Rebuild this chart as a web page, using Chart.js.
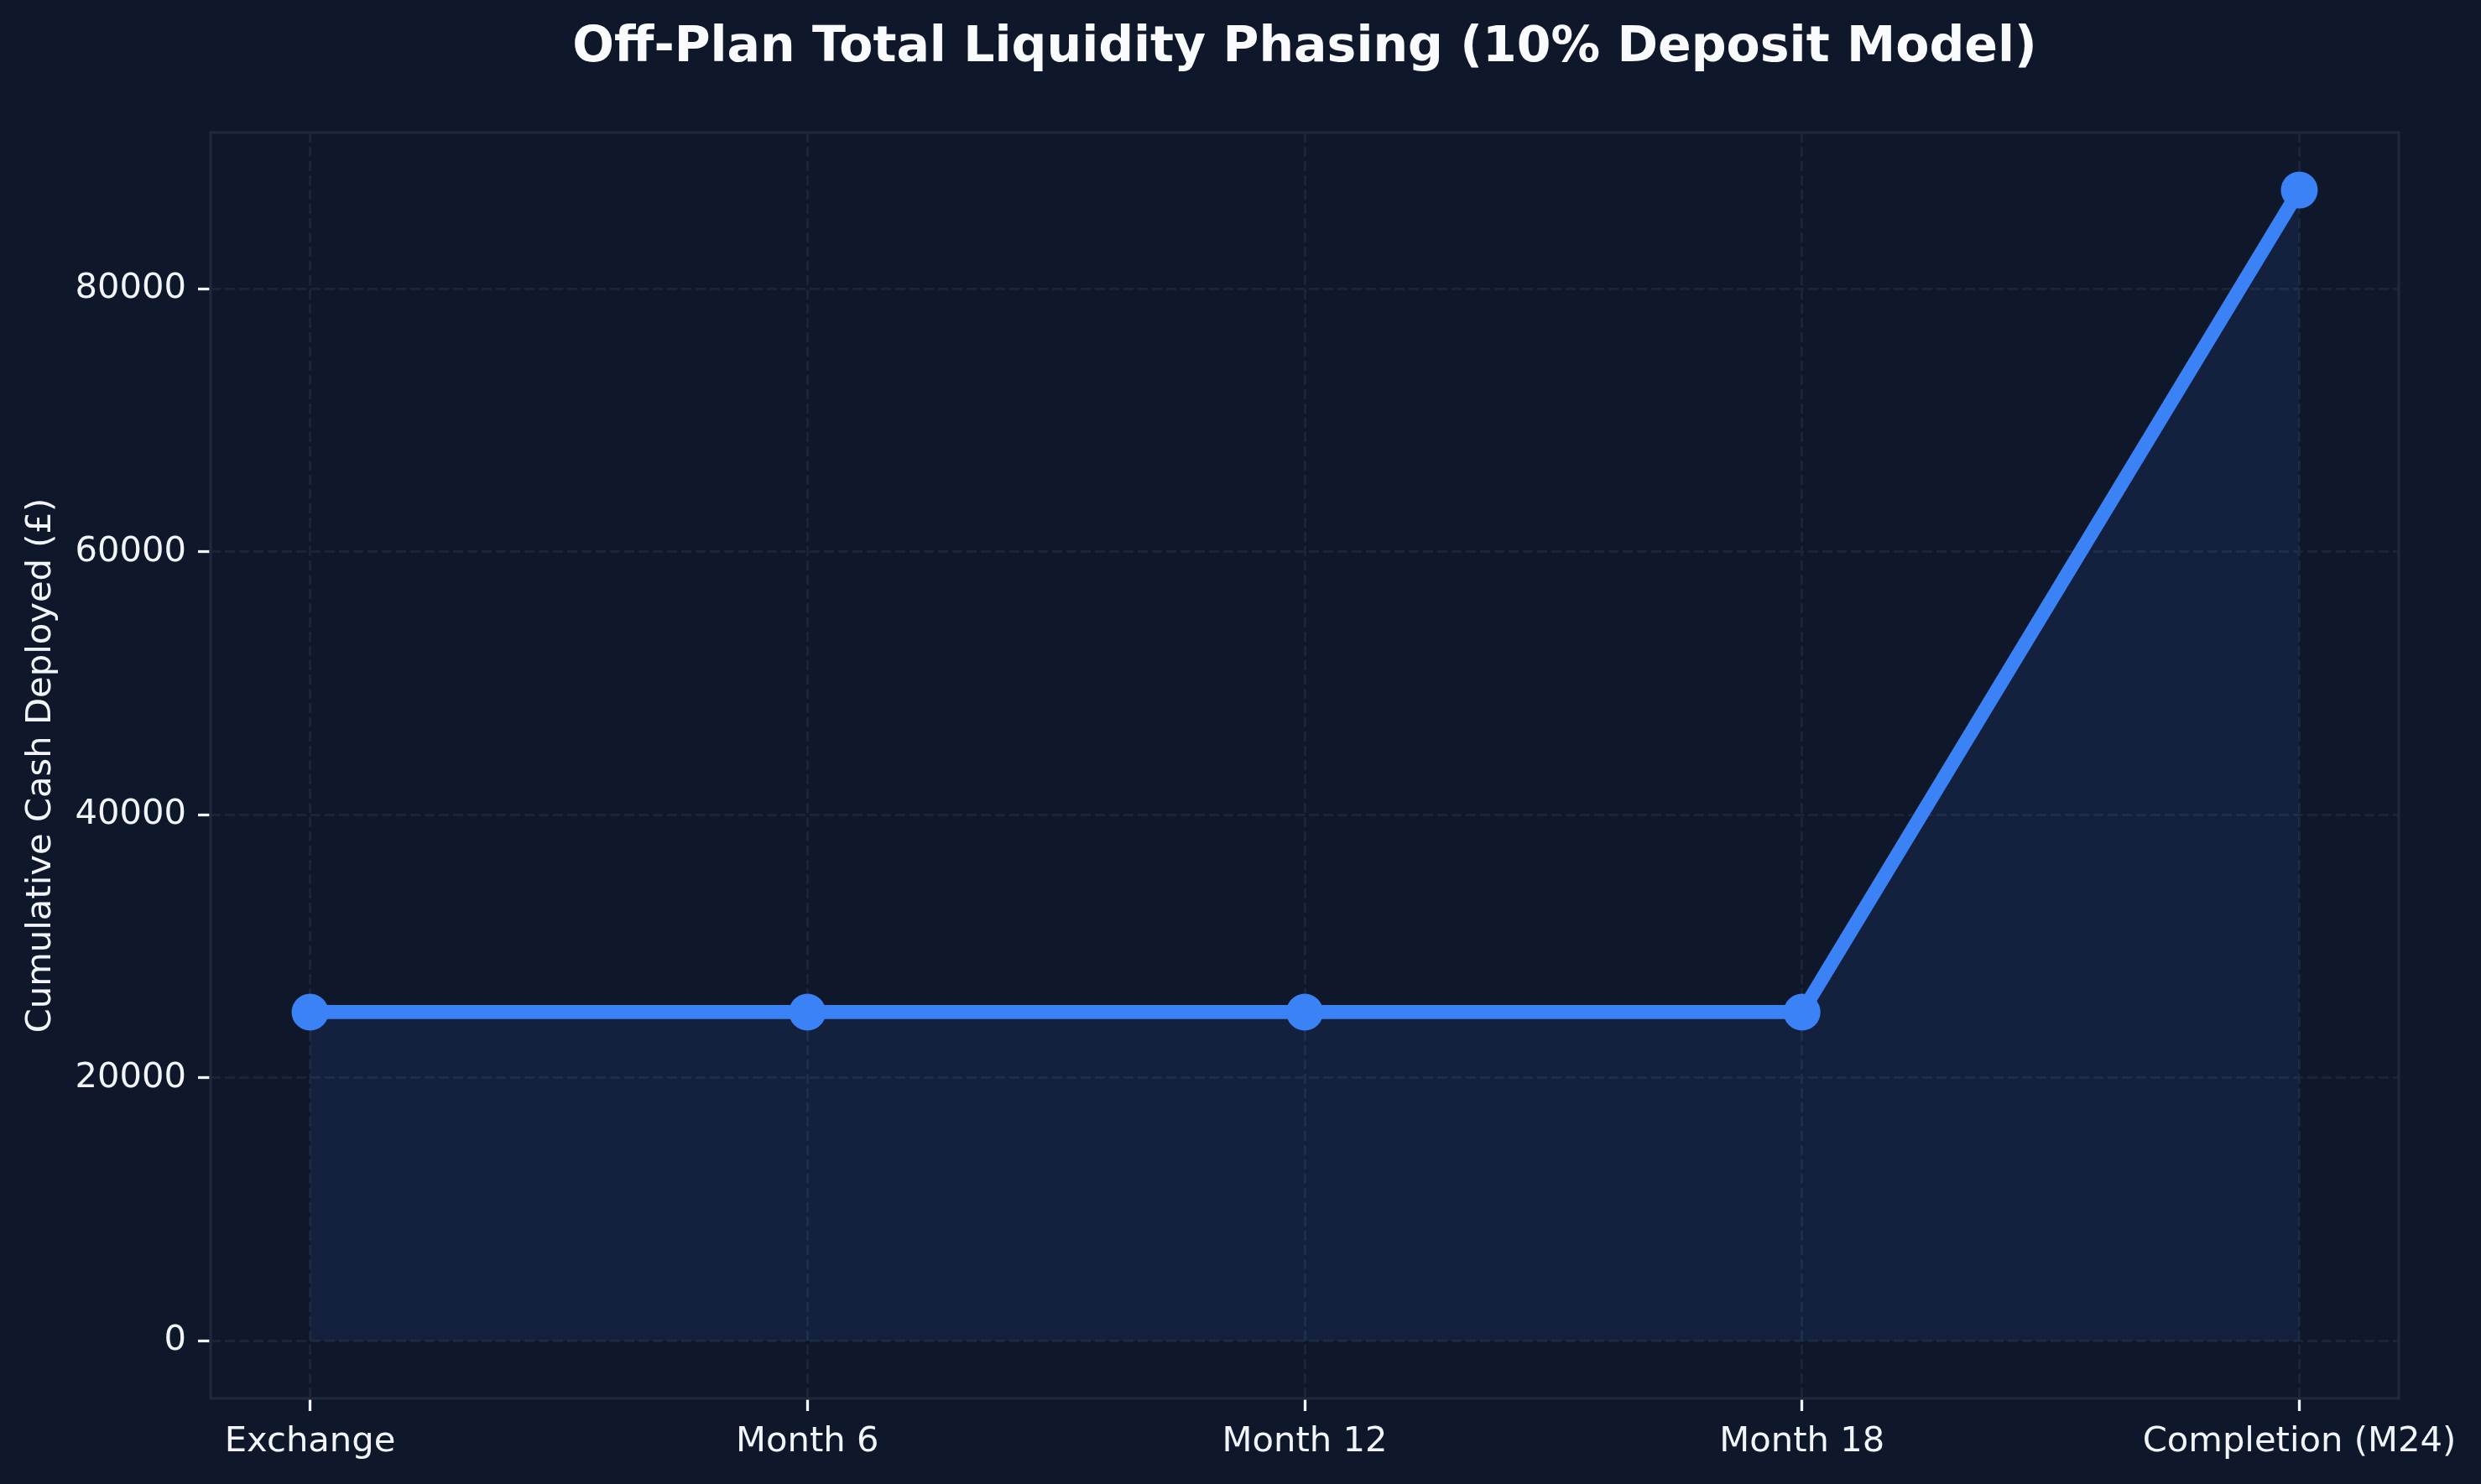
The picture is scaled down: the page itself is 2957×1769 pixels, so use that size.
<!DOCTYPE html>
<html>
<head>
<meta charset="utf-8">
<script src="https://cdn.jsdelivr.net/npm/chart.js@4.4.1/dist/chart.umd.min.js"></script>
<style>
  html, body { margin: 0; padding: 0; background: #0f172a; }
  canvas { display: block; }
</style>
</head>
<body>
<canvas id="liquidityChart" width="2957" height="1769"></canvas>
<script>
// data
const stages = ['Exchange', 'Month 6', 'Month 12', 'Month 18', 'Completion (M24)'];
const cumulativeCash = [25000, 25000, 25000, 25000, 87500];
const yTicks = [0, 20000, 40000, 60000, 80000];

const chartTitle = 'Off-Plan Total Liquidity Phasing (10% Deposit Model)';
const yLabel = 'Cumulative Cash Deployed (£)';

const bg = '#0f172a';
const lineBlue = '#3b82f6';
const spine = '#1e293b';
const gridCol = '#1b2437';
const textCol = '#f1f5f9';

// matplotlib-like margins: 5% of data range
const yMin = -0.05 * Math.max(...cumulativeCash);
const yMax = Math.max(...cumulativeCash) * 1.05;
const xPad = 0.05 * (stages.length - 1);

const points = cumulativeCash.map((v, i) => ({ x: i, y: v }));

const backdrop = {
  id: 'backdrop',
  beforeDraw(chart) {
    const ctx = chart.ctx;
    ctx.save();
    ctx.fillStyle = bg;
    ctx.fillRect(0, 0, chart.width, chart.height);
    ctx.restore();
  },
  afterDatasetsDraw(chart) {
    const { ctx, chartArea: a } = chart;
    ctx.save();
    ctx.strokeStyle = spine;
    ctx.lineWidth = 3.3;
    ctx.strokeRect(a.left, a.top, a.right - a.left, a.bottom - a.top);
    ctx.restore();
  },
  afterDraw(chart) {
    // title centred over the plot area, like matplotlib does it
    const { ctx, chartArea: a } = chart;
    ctx.save();
    ctx.fillStyle = '#f8fafc';
    ctx.font = 'bold 58.5px "DejaVu Sans"';
    ctx.textAlign = 'center';
    ctx.textBaseline = 'middle';
    ctx.fillText(chartTitle, (a.left + a.right) / 2, 58);
    ctx.restore();
  }
};

new Chart(document.getElementById('liquidityChart').getContext('2d'), {
  type: 'line',
  data: {
    datasets: [{
      label: 'Cumulative cash',
      data: points,
      borderColor: lineBlue,
      borderWidth: 16.7,
      borderJoinStyle: 'round',
      fill: 'origin',
      backgroundColor: 'rgba(59,130,246,0.1)',
      pointRadius: 22,
      pointHoverRadius: 22,
      pointBackgroundColor: lineBlue,
      pointBorderWidth: 0,
      tension: 0
    }]
  },
  options: {
    responsive: false,
    devicePixelRatio: 1,
    animation: false,
    layout: { padding: { top: 158, right: 98, bottom: 0, left: 0 } },
    plugins: {
      legend: { display: false },
      title: { display: false },
      tooltip: { enabled: false }
    },
    scales: {
      x: {
        type: 'linear',
        min: -xPad,
        max: stages.length - 1 + xPad,
        afterBuildTicks: s => { s.ticks = stages.map((_, i) => ({ value: i })); },
        afterFit: s => { s.height = 102; },
        ticks: {
          color: textCol,
          padding: 12,
          font: { family: 'DejaVu Sans', size: 41.7 },
          callback: v => stages[v],
          maxRotation: 0,
          autoSkip: false
        },
        grid: {
          color: gridCol,
          lineWidth: 3,
          tickColor: textCol,
          tickLength: 15,
          tickWidth: 3.3,
          tickBorderDash: []
        },
        border: { display: false, dash: [12, 5] }
      },
      y: {
        min: yMin,
        max: yMax,
        afterBuildTicks: s => { s.ticks = yTicks.map(v => ({ value: v })); },
        afterFit: s => { s.width = 251; },
        ticks: {
          color: textCol,
          padding: 14,
          font: { family: 'DejaVu Sans', size: 41.7 },
          callback: v => String(v)
        },
        grid: {
          color: gridCol,
          lineWidth: 3,
          tickColor: textCol,
          tickLength: 15,
          tickWidth: 3.3,
          tickBorderDash: []
        },
        border: { display: false, dash: [12, 5] },
        title: {
          display: true,
          text: yLabel,
          color: textCol,
          font: { family: 'DejaVu Sans', size: 41.7 },
          padding: { top: 24, bottom: 0 }
        }
      }
    }
  },
  plugins: [backdrop]
});
</script>
</body>
</html>
